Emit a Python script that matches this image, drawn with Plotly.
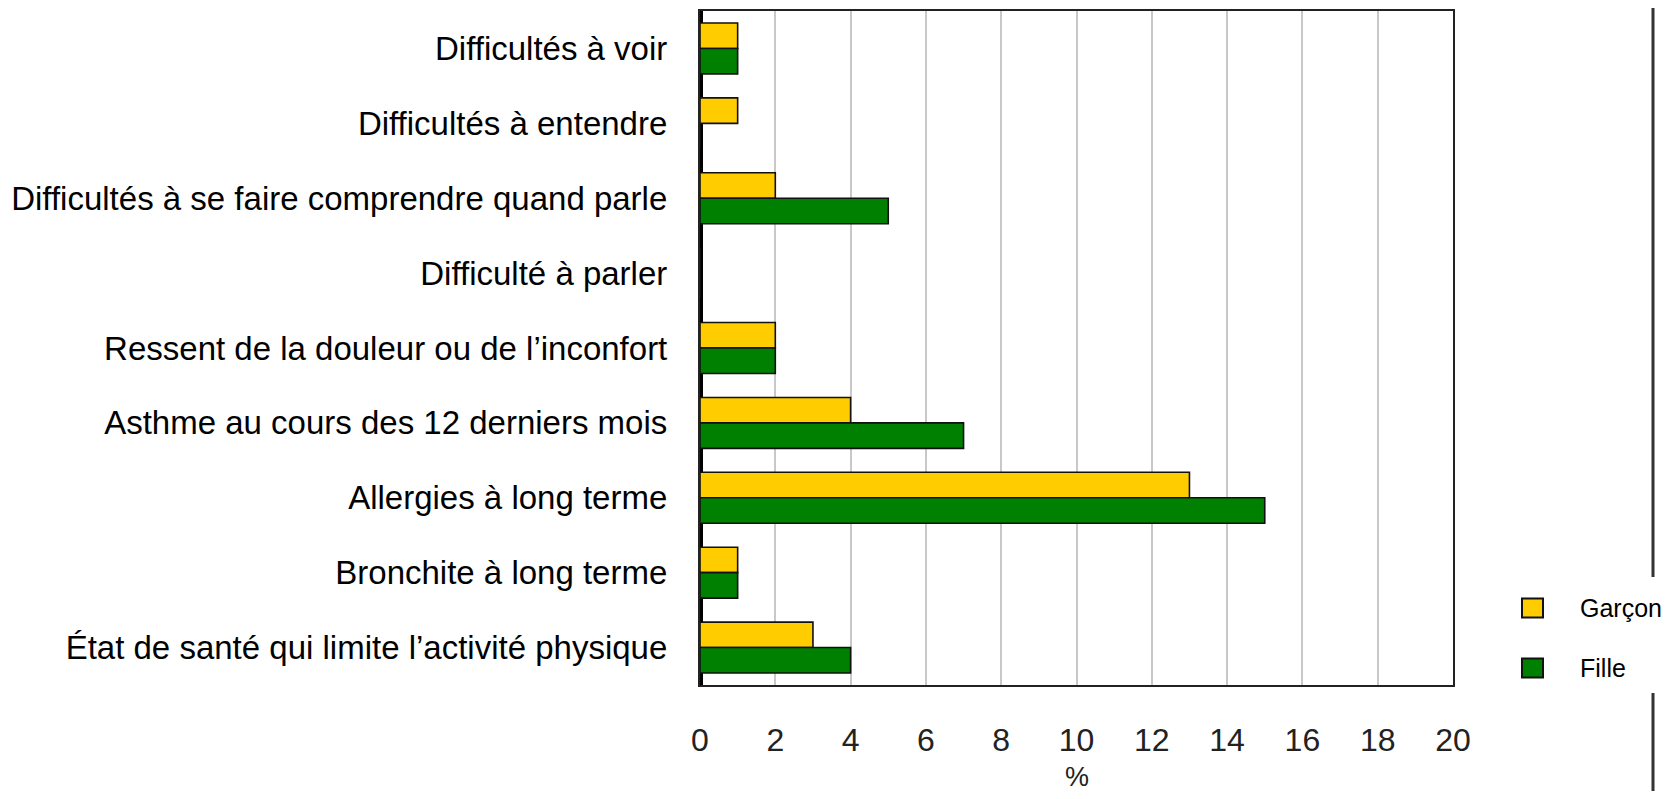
import plotly.graph_objects as go

# ---------------- data ----------------
categories = [
    "Difficultés à voir",
    "Difficultés à entendre",
    "Difficultés à se faire comprendre quand parle",
    "Difficulté à parler",
    "Ressent de la douleur ou de l’inconfort",
    "Asthme au cours des 12 derniers mois",
    "Allergies à long terme",
    "Bronchite à long terme",
    "État de santé qui limite l’activité physique",
]
garcon = [1, 1, 2, 0, 2, 4, 13, 1, 3]
fille = [1, 0, 5, 0, 2, 7, 15, 1, 4]
series_names = ["Garçon", "Fille"]
series_colors = ["#FFCC00", "#008000"]
x_ticks = [0, 2, 4, 6, 8, 10, 12, 14, 16, 18, 20]
x_title = "%"

# ---------------- layout geometry (screen pixels) ----------------
# the page body has a default 8px margin, so figure coords = screen - 8
OFF = 8
WIN_W, WIN_H = 1673, 799
W, H = WIN_W - 2 * OFF, WIN_H - 2 * OFF
S_PL, S_PR, S_PT, S_PB = 700, 1453, 11, 685
PL, PR, PT, PB = S_PL - OFF, S_PR - OFF, S_PT - OFF, S_PB - OFF
FONT = "Liberation Sans, Arial, sans-serif"


def px_x(sx):
    return (sx - OFF - PL) / (PR - PL)


def px_y(sy):
    return (PB - (sy - OFF)) / (PB - PT)


fig = go.Figure()
for name, vals, col in zip(series_names, [garcon, fille], series_colors):
    fig.add_trace(go.Bar(
        y=categories, x=vals, name=name, orientation="h",
        marker=dict(color=col, line=dict(color="#111111", width=1.6)),
        showlegend=False,
    ))

fig.update_layout(
    width=W, height=H,
    margin=dict(l=PL, r=W - PR, t=PT, b=H - PB, pad=0, autoexpand=False),
    paper_bgcolor="white", plot_bgcolor="white",
    barmode="group", bargap=0.32, bargroupgap=0,
    font=dict(family=FONT, color="black"),
)
fig.update_xaxes(
    range=[0, 20], tickvals=x_ticks, ticktext=[str(v) for v in x_ticks],
    showgrid=True, gridcolor="#c8c8c8", gridwidth=1.6,
    showline=True, linecolor="#222222", linewidth=2.2, mirror=True,
    zeroline=True, zerolinecolor="black", zerolinewidth=5,
    ticks="", ticklabelstandoff=25, automargin=False,
    tickfont=dict(size=32, color="#222222", family=FONT),
)
fig.update_yaxes(
    type="category", categoryorder="array", categoryarray=categories,
    range=[len(categories) - 0.5, -0.5],
    showgrid=False, showline=True, linecolor="#222222", linewidth=2.2, mirror=True,
    ticks="", ticklabelstandoff=24, automargin=False,
    tickfont=dict(size=33, color="black", family=FONT),
)

# x axis title
fig.add_annotation(
    x=10, xref="x", y=px_y(777), yref="paper", text=x_title, showarrow=False,
    font=dict(size=27, color="#222222", family=FONT), xanchor="center", yanchor="middle",
)

# legend (manual, to match size of swatches)
legend_y = [608, 668]
for name, col, ly in zip(series_names, series_colors, legend_y):
    fig.add_shape(
        type="rect", xref="paper", yref="paper",
        x0=px_x(1522), x1=px_x(1543), y0=px_y(ly - 9.5), y1=px_y(ly + 9.5),
        fillcolor=col, line=dict(color="#111111", width=2),
    )
    fig.add_annotation(
        x=px_x(1578), xref="paper", y=px_y(ly), yref="paper", text=name,
        showarrow=False, xanchor="left", yanchor="middle",
        font=dict(size=25, color="black", family=FONT),
    )

# right-hand vertical rule (interrupted by the legend box)
for y0, y1 in [(0, 577), (693, 799)]:
    fig.add_shape(
        type="line", xref="paper", yref="paper",
        x0=px_x(1653), x1=px_x(1653), y0=px_y(y0), y1=px_y(y1),
        line=dict(color="#333333", width=3),
    )

fig.write_html("out.html")
